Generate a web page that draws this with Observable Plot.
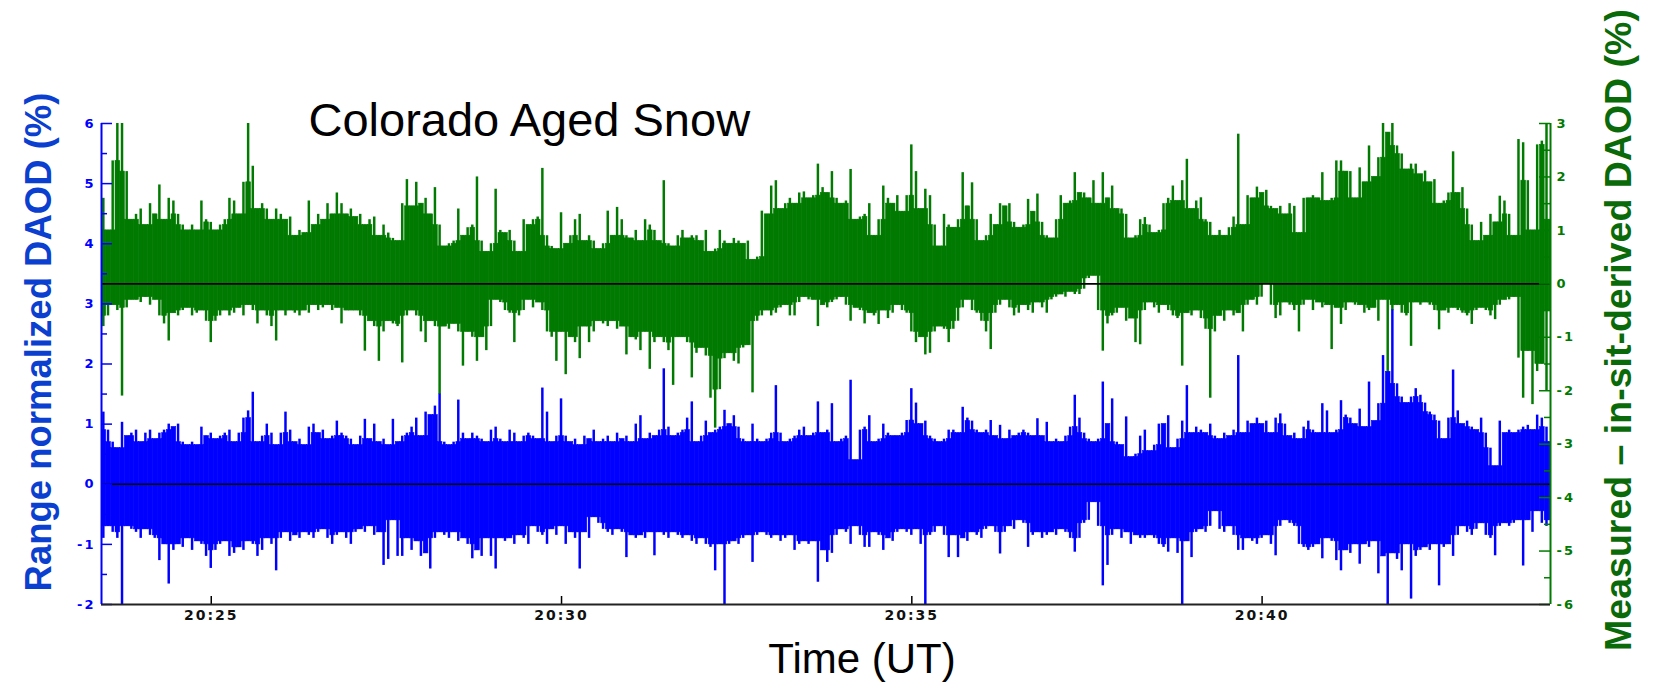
<!DOCTYPE html>
<html><head><meta charset="utf-8">
<script src="https://cdn.jsdelivr.net/npm/d3@7"></script>
<script src="https://cdn.jsdelivr.net/npm/@observablehq/plot@0.6"></script>
<style>
html,body{margin:0;padding:0;background:#fff;}
#chart svg g[aria-label*="tick label"] text { letter-spacing: 2px; }
</style>
</head><body><div id="chart"></div>
<script>
// ---- data (4-second bins, max/min of each bin) ----
const startTime = "2000-01-01T20:23:26Z";
const endTime = "2000-01-01T20:44:07Z";
const binSeconds = 4;
const xTickLabels = ["20:25", "20:30", "20:35", "20:40"];
const leftTicks = [-2, -1, 0, 1, 2, 3, 4, 5, 6];
const leftMinorTicks = [-1.5, -0.5, 0.5, 1.5, 2.5, 3.5, 4.5, 5.5];
const rightTicks = [-6, -5, -4, -3, -2, -1, 0, 1, 2, 3];
const rightMinorTicks = [-5.5, -4.5, -3.5, -2.5, -1.5, -0.5, 0.5, 1.5, 2.5];

// Measured – in-sit-derived DAOD (%), green, right axis
const greenHi = [
1.6,1.0,2.3,3.5,3.5,2.1,1.2,1.3,1.4,1.1,1.5,1.3,1.85,1.2,1.6,1.55,1.3,1.1,1.0,1.1,
1.0,1.55,1.2,1.15,1.0,1.1,1.2,1.6,1.55,1.3,1.9,3.0,2.2,1.4,1.5,1.4,1.2,1.4,1.3,1.2,
1.25,0.9,1.0,0.95,1.55,1.1,1.3,1.2,1.5,1.3,1.7,1.5,1.3,
1.4,1.25,1.3,1.1,1.2,1.25,0.9,1.1,0.95,0.85,0.8,1.5,1.95,1.45,1.9,1.5,1.6,1.3,1.8,1.1,
0.7,0.75,0.8,1.4,0.9,1.05,1.1,2.0,0.8,0.6,0.75,1.77,1.0,0.95,1.0,0.8,0.6,1.2,1.1,1.2,
1.25,2.16,0.9,0.7,0.65,1.33,0.75,0.9,1.2,1.3,0.8,0.9,
0.8,0.65,0.75,1.36,0.9,1.43,1.2,0.9,0.85,1.0,0.8,1.2,1.1,1.0,0.8,1.93,0.75,0.7,0.9,1.0,
0.85,0.9,0.9,0.8,1.0,0.6,0.65,1.0,0.8,0.75,0.85,0.8,0.75,0.8,0.45,0.5,1.36,1.3,1.83,1.93,
1.4,1.5,1.6,1.5,1.7,1.72,1.6,1.65,2.24,1.8,1.7,2.1,
1.6,1.5,1.55,2.14,1.2,1.25,1.3,1.5,0.9,1.2,1.83,1.6,1.5,1.65,1.35,1.65,2.6,2.1,1.4,1.77,
1.65,1.1,0.7,1.3,1.1,1.05,1.2,2.08,1.45,1.89,1.2,0.8,0.9,1.3,1.1,1.5,1.45,1.5,1.15,1.05,
1.1,1.58,1.35,1.68,1.15,0.9,0.85,1.2,1.65,1.5,1.55,2.08,1.7,
1.7,1.6,1.93,1.5,2.08,1.6,1.83,1.4,1.4,1.3,0.85,0.9,1.2,1.24,1.1,0.95,1.0,1.5,1.6,1.83,
1.55,1.93,2.33,1.4,1.55,1.61,1.2,1.15,0.9,1.0,0.9,1.05,1.25,2.8,1.1,1.65,1.6,1.81,1.7,1.75,
1.45,1.4,1.45,1.3,1.5,1.45,0.95,1.6,1.6,1.65,1.6,2.08,
1.55,1.6,2.3,2.3,2.1,2.1,1.6,2.17,1.9,2.58,2.0,2.36,3.2,2.83,3.2,2.58,2.43,2.14,2.24,2.24,
2.05,2.11,1.9,1.95,1.5,1.55,1.7,2.47,1.7,1.8,1.4,1.1,0.8,1.15,0.9,1.3,1.15,1.64,1.55,1.3,
0.9,2.7,2.64,1.93,1.0,2.6,2.67,3.2,1.2
];
const greenLo = [
-0.8,-0.6,-0.4,-0.5,-2.1,-0.45,-0.3,-0.3,-0.35,-0.25,-0.4,-0.3,-0.6,-0.75,-1.07,-0.55,-0.6,-0.5,-0.45,-0.6,
-0.55,-0.5,-0.7,-1.1,-0.7,-0.6,-0.5,-0.6,-0.55,-0.45,-0.6,-0.4,-0.5,-0.75,-0.5,-0.6,-0.8,-1.07,-0.5,-0.6,
-0.5,-0.55,-0.6,-0.5,-0.55,-0.4,-0.5,-0.45,-0.4,-0.5,-0.45,-0.75,-0.5,
-0.5,-0.5,-0.6,-1.26,-0.7,-0.8,-1.45,-0.9,-0.7,-0.75,-0.8,-1.48,-0.6,-0.5,-0.6,-0.9,-1.1,-0.7,-0.8,-2.07,
-0.8,-0.85,-0.75,-0.9,-1.54,-0.9,-1.0,-1.45,-1.0,-1.25,-0.8,-0.3,-0.35,-0.5,-0.55,-1.1,-0.6,-0.5,-0.3,-0.45,
-0.35,-0.5,-0.9,-1.0,-1.45,-0.9,-1.7,-1.0,-1.1,-1.4,-0.8,-1.1,
-0.9,-0.7,-0.75,-0.8,-0.7,-0.85,-0.8,-1.33,-1.0,-1.05,-1.25,-0.9,-1.6,-1.1,-1.0,-1.1,-1.25,-1.9,-1.0,-1.0,
-1.1,-1.76,-1.3,-1.2,-1.35,-2.14,-2.7,-1.98,-1.4,-1.3,-1.45,-1.5,-1.2,-1.15,-2.04,-0.7,-0.6,-0.5,-0.6,-0.55,
-0.45,-0.4,-0.6,-0.6,-0.35,-0.25,-0.3,-0.3,-0.8,-0.4,-0.45,-0.35,
-0.3,-0.25,-0.4,-0.7,-0.45,-0.5,-0.75,-0.55,-0.6,-0.76,-0.5,-0.65,-0.55,-0.4,-0.5,-0.55,-0.9,-1.1,-1.0,-1.33,
-1.3,-0.9,-0.8,-0.85,-1.1,-0.85,-0.7,-0.45,-0.3,-0.5,-0.55,-0.7,-0.9,-1.23,-0.55,-0.4,-0.3,-0.45,-0.6,-0.55,
-0.4,-0.5,-0.55,-0.35,-0.45,-0.55,-0.3,-0.25,-0.2,-0.25,-0.15,-0.2,-0.2,
-0.1,0.1,0.15,-0.5,-1.26,-0.75,-0.6,-0.55,-0.45,-0.7,-0.65,-1.1,-1.14,-0.5,-0.35,-0.45,-0.55,-0.4,-0.5,-0.6,
-0.65,-1.54,-0.55,-0.6,-0.5,-0.65,-0.85,-2.14,-0.9,-0.6,-0.7,-0.5,-0.6,-0.55,-0.9,-0.4,-0.3,-0.4,-0.25,0.0,
-0.4,-0.65,-0.6,-0.35,-0.4,-0.5,-0.9,-0.4,-0.3,-0.5,-0.35,-0.45,
-0.4,-1.23,-0.45,-0.76,-0.5,-0.35,-0.4,-0.4,-0.55,-0.5,-0.45,-0.7,-0.3,-1.64,-0.5,-0.4,-0.55,-0.6,-1.17,-0.35,
-0.4,-0.35,-0.4,-0.5,-0.86,-0.5,-0.55,-0.45,-0.5,-0.55,-0.6,-0.76,-0.5,-0.45,-0.5,-0.6,-0.67,-0.4,-0.3,-0.3,
-0.25,-1.39,-2.14,-1.26,-2.26,-1.64,-1.5,-2.0,-0.5
];
// Range normalized DAOD (%), blue, left axis
const blueHi = [
1.2,0.9,0.7,0.6,1.03,0.8,0.85,0.9,0.7,0.85,0.9,0.75,0.85,0.9,1.0,0.95,1.0,0.7,0.65,0.7,
0.65,0.95,0.8,0.85,0.75,0.8,0.85,0.9,0.7,0.85,1.1,1.22,1.53,0.7,0.8,1.0,0.85,0.65,0.85,1.2,
0.9,0.7,0.75,0.65,0.95,1.0,0.85,0.9,0.75,0.8,1.05,0.85,0.8,
0.75,0.65,0.8,1.08,0.75,1.0,0.7,0.75,0.65,1.08,0.7,0.8,0.85,0.95,1.1,0.8,1.2,1.15,1.3,1.5,
0.7,0.65,0.7,1.4,0.85,0.75,0.85,0.8,0.75,0.7,0.9,0.95,0.75,0.7,0.9,0.85,0.7,0.8,0.85,0.8,
0.75,1.6,1.2,0.7,0.8,1.42,0.8,0.7,0.75,0.65,0.8,0.75,
0.9,0.7,0.75,0.8,0.7,0.85,0.75,0.8,0.7,1.0,1.14,0.75,0.85,0.8,0.9,1.92,0.95,0.8,0.85,0.9,
1.1,1.37,0.7,0.8,1.05,0.85,0.9,0.95,1.23,1.0,1.14,0.95,0.75,0.7,1.0,0.75,0.7,0.75,0.85,1.64,
0.85,0.7,0.75,0.8,0.9,0.95,0.8,0.85,1.37,0.85,0.9,1.34,
0.7,0.75,0.8,1.73,0.4,0.9,0.95,1.14,0.7,0.75,1.0,0.85,0.8,0.8,0.85,1.06,1.59,1.35,1.0,1.05,
0.8,0.75,0.7,0.75,0.9,0.9,0.85,1.28,1.1,1.05,0.9,0.85,0.9,1.06,0.8,0.98,0.75,0.9,0.8,0.85,
0.9,0.85,0.8,1.09,0.8,1.03,0.7,0.75,0.7,0.8,0.95,1.48,1.1,
0.85,0.75,0.7,0.75,1.7,1.0,1.42,0.7,0.65,1.12,0.45,0.5,0.8,0.9,0.55,0.65,1.0,1.0,1.14,0.6,
0.75,1.05,1.64,0.85,0.95,0.9,0.85,1.0,0.8,0.75,0.85,0.8,0.9,2.14,0.85,1.05,1.0,1.1,1.0,1.05,
0.85,1.1,1.17,1.0,0.8,0.85,0.75,0.95,1.05,0.9,0.85,1.34,
1.22,0.85,0.9,1.39,1.15,1.1,1.0,1.25,0.95,1.7,1.05,1.34,2.14,1.87,2.9,1.67,1.45,1.35,1.45,1.59,
1.48,1.35,1.2,1.15,1.05,0.75,1.1,1.9,1.22,1.0,1.05,0.95,0.9,1.1,0.85,0.6,0.3,1.05,0.85,0.9,
0.85,0.9,0.95,0.98,0.9,1.15,1.1,0.95,0.7
];
const blueLo = [
-0.9,-0.7,-0.8,-0.9,-2.1,-0.7,-0.75,-0.8,-0.9,-0.75,-0.85,-0.9,-1.27,-1.0,-1.66,-1.1,-1.0,-1.05,-0.9,-1.1,
-0.95,-1.0,-1.2,-1.4,-1.1,-1.0,-0.95,-1.2,-1.15,-1.05,-1.1,-0.95,-1.0,-1.2,-1.1,-0.9,-1.0,-1.44,-0.9,-0.8,
-0.95,-0.85,-0.9,-0.8,-0.85,-0.9,-0.8,-0.75,-0.9,-1.0,-0.85,-0.8,-0.9,
-1.0,-0.8,-0.75,-0.8,-0.7,-0.85,-0.8,-1.35,-1.25,-0.6,-1.2,-1.2,-0.9,-1.1,-0.95,-1.2,-1.15,-1.41,-0.9,-0.8,
-0.85,-0.9,-0.8,-0.95,-0.9,-1.0,-1.24,-1.1,-1.2,-0.9,-1.2,-1.41,-0.9,-0.95,-0.9,-1.0,-0.85,-0.9,-1.0,-0.7,
-0.8,-0.85,-1.0,-0.75,-0.85,-0.7,-1.0,-0.8,-0.9,-1.41,-0.8,-0.9,
-0.55,-0.65,-0.75,-0.8,-0.85,-0.75,-0.8,-1.22,-0.85,-0.9,-0.85,-0.9,-0.8,-1.19,-0.8,-0.85,-0.9,-0.8,-0.85,-0.9,
-0.85,-0.95,-1.0,-0.9,-1.0,-1.05,-1.44,-1.0,-2.1,-1.0,-0.95,-1.0,-0.9,-0.85,-1.3,-0.85,-0.8,-0.85,-0.9,-0.85,
-0.95,-0.9,-0.85,-1.1,-1.0,-0.95,-1.0,-0.95,-1.63,-1.1,-1.3,-1.15,
-0.85,-0.75,-0.8,-1.0,-0.7,-0.85,-1.05,-1.05,-0.8,-0.85,-1.1,-0.9,-0.95,-0.8,-0.75,-0.8,-0.85,-0.75,-1.0,-2.1,
-0.85,-0.8,-0.7,-0.85,-1.22,-0.85,-1.22,-0.9,-0.95,-0.8,-0.85,-0.9,-0.75,-0.7,-0.8,-1.16,-0.8,-0.7,-0.75,-0.6,
-0.65,-1.05,-0.85,-0.8,-0.9,-0.85,-0.8,-0.85,-0.75,-0.8,-0.9,-1.13,-0.9,
-0.65,-0.6,-0.3,-0.7,-1.69,-1.35,-0.85,-0.75,-0.9,-0.8,-1.0,-0.85,-0.9,-0.9,-0.85,-0.9,-1.0,-1.05,-1.13,-0.9,
-1.15,-2.1,-0.95,-1.22,-0.8,-0.75,-0.8,-0.7,-0.45,-0.75,-0.8,-0.7,-0.85,-1.1,-1.1,-0.9,-0.95,-1.0,-0.9,-0.85,
-1.0,-1.19,-0.7,-0.6,-0.65,-0.7,-1.0,-1.05,-1.1,-1.05,-1.0,-1.24,
-0.9,-0.95,-1.27,-1.44,-1.1,-1.15,-1.0,-1.33,-1.0,-1.05,-0.95,-1.49,-1.2,-2.1,-1.15,-1.25,-1.44,-1.0,-1.91,-1.2,
-1.1,-1.05,-1.1,-1.0,-1.69,-1.05,-1.0,-1.2,-0.85,-0.7,-0.8,-0.85,-0.75,-0.65,-0.85,-0.9,-1.19,-0.7,-0.65,-0.7,
-0.65,-0.6,-1.36,-0.6,-0.8,-0.45,-0.65,-0.7,-0.6
];

// ---- styling ----
const BLUE = "#0000ff";
const GREEN = "#007a00";
const LEFT_LABEL = "#0b3fcf";
const RIGHT_LABEL = "#0a6a0a";
const TICK_FONT = "'DejaVu Sans', Verdana, sans-serif";
const W = 1653, H = 685;
const mL = 101, mR = 103, mT = 123, mB = 81;
const frameW = W - mL - mR, frameH = H - mT - mB;

// green (right axis, -6..3) mapped onto the blue scale (-2..6)
const g2b = g => (g + 6) * 8 / 9 - 2;
const b2g = b => (b + 2) * 9 / 8 - 6;

const t0 = new Date(startTime);
const n = blueHi.length;
const at = (arr, i) => arr[Math.max(0, Math.min(n - 1, i))];
const rows = blueHi.map((_, i) => ({
  a: new Date(+t0 + i * binSeconds * 1000),
  b: new Date(+t0 + (i + 1) * binSeconds * 1000),
  bHi: blueHi[i], bLo: blueLo[i], gHi: greenHi[i], gLo: greenLo[i],
  // solid core shared with both neighbours (keeps the band filled, spikes thin)
  bHiC: Math.min(at(blueHi, i - 1), blueHi[i], at(blueHi, i + 1)),
  bLoC: Math.max(at(blueLo, i - 1), blueLo[i], at(blueLo, i + 1)),
  gHiC: Math.min(at(greenHi, i - 1), greenHi[i], at(greenHi, i + 1)),
  gLoC: Math.max(at(greenLo, i - 1), greenLo[i], at(greenLo, i + 1))
}));
const xTicks = xTickLabels.map(s => new Date(`2000-01-01T${s}:00Z`));

const chart = Plot.plot({
  width: W, height: H,
  marginLeft: mL, marginRight: mR, marginTop: mT, marginBottom: mB,
  style: {fontFamily: "'Liberation Sans', Arial, sans-serif", background: "white", overflow: "visible"},
  x: {type: "utc", domain: [new Date(startTime), new Date(endTime)], axis: null},
  y: {domain: [-2, 6], axis: null},
  marks: [
    // green series
    Plot.rect(rows, {x1: "a", x2: "b", y1: d => g2b(d.gLoC), y2: d => g2b(d.gHiC), fill: GREEN, stroke: GREEN, strokeWidth: 0.6, clip: true}),
    Plot.rect(rows, {x1: "a", x2: "b", y1: d => g2b(d.gLo), y2: d => g2b(d.gHi), insetLeft: 1.1, insetRight: 1.1, fill: GREEN, clip: true}),
    Plot.ruleY([g2b(0)], {stroke: "black", strokeWidth: 1.6}),
    // blue series
    Plot.rect(rows, {x1: "a", x2: "b", y1: "bLoC", y2: "bHiC", fill: BLUE, stroke: BLUE, strokeWidth: 0.6, clip: true}),
    Plot.rect(rows, {x1: "a", x2: "b", y1: "bLo", y2: "bHi", insetLeft: 1.1, insetRight: 1.1, fill: BLUE, clip: true}),
    Plot.ruleY([0], {stroke: "black", strokeWidth: 1.6}),
    // ticks (inward)
    Plot.ruleY(leftTicks, {stroke: BLUE, strokeWidth: 1.5, insetRight: frameW - 11}),
    Plot.ruleY(leftMinorTicks, {stroke: BLUE, strokeWidth: 1.5, insetRight: frameW - 6}),
    Plot.ruleY(rightTicks.map(g2b), {stroke: GREEN, strokeWidth: 1.5, insetLeft: frameW - 11}),
    Plot.ruleY(rightMinorTicks.map(g2b), {stroke: GREEN, strokeWidth: 1.5, insetLeft: frameW - 6}),
    Plot.ruleX(xTicks, {stroke: "black", strokeWidth: 1.5, insetTop: frameH - 8}),
    // axis lines
    Plot.ruleY([-2], {stroke: "#222", strokeWidth: 2}),
    Plot.ruleX([new Date(startTime)], {stroke: BLUE, strokeWidth: 2}),
    Plot.ruleX([new Date(endTime)], {stroke: GREEN, strokeWidth: 2}),
    // tick labels
    Plot.axisY(leftTicks, {anchor: "left", tickSize: 0, tickPadding: 6, tickFormat: d => String(d), fill: BLUE, fontSize: 13, fontWeight: "bold", fontFamily: TICK_FONT, label: null}),
    Plot.axisY(rightTicks.map(g2b), {anchor: "right", tickSize: 0, tickPadding: 6, tickFormat: d => String(Math.round(b2g(d))), fill: GREEN, fontSize: 13, fontWeight: "bold", fontFamily: TICK_FONT, label: null}),
    Plot.axisX(xTicks, {anchor: "bottom", tickSize: 0, tickPadding: 6, tickFormat: d3.utcFormat("%H:%M"), fill: "#111", fontSize: 14, fontWeight: "bold", fontFamily: TICK_FONT, label: null}),
    // titles
    Plot.text(["Colorado Aged Snow"], {frameAnchor: "top-left", dx: 207, dy: 12, textAnchor: "start", lineAnchor: "bottom", fontSize: 47, fill: "black"}),
    Plot.text(["Time (UT)"], {frameAnchor: "bottom", dx: 36, dy: 68, lineAnchor: "bottom", fontSize: 42, fill: "black"}),
    Plot.text(["Range normalized DAOD (%)"], {frameAnchor: "left", textAnchor: "middle", lineAnchor: "middle", rotate: -90, dx: -62, dy: -22, fontSize: 36.5, fontWeight: "bold", fill: LEFT_LABEL}),
    Plot.text(["Measured – in-sit-derived DAOD (%)"], {frameAnchor: "right", textAnchor: "middle", lineAnchor: "middle", rotate: -90, dx: 68, dy: -34, fontSize: 37.5, fontWeight: "bold", fill: RIGHT_LABEL})
  ]
});
document.getElementById("chart").appendChild(chart);
</script>
</body></html>
